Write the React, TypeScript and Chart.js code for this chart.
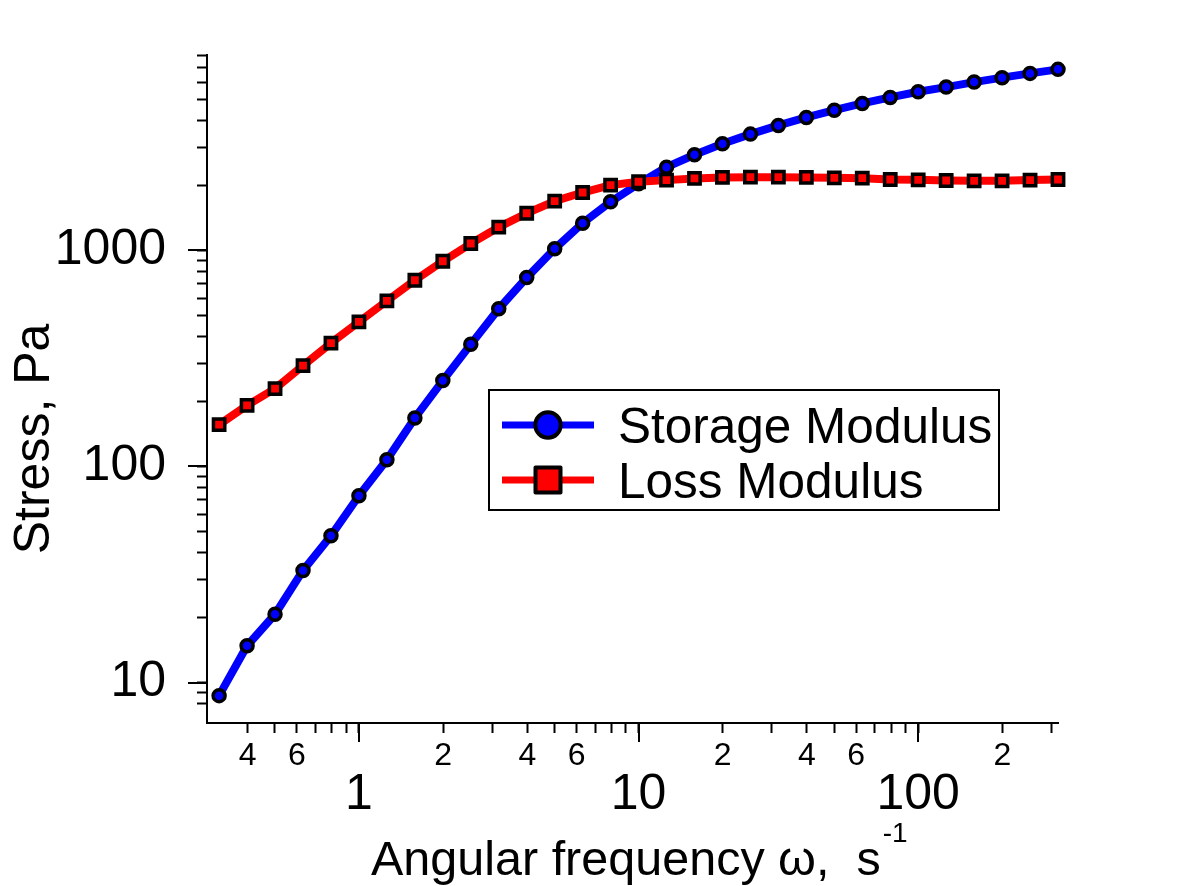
import React, { useEffect, useRef } from 'react';
import { Chart, registerables } from 'chart.js';

Chart.register(...registerables);

// ---- data ----
const angularFrequency = [0.3162, 0.3981, 0.5012, 0.631, 0.7943, 1, 1.259, 1.585, 1.995, 2.512, 3.162, 3.981, 5.012, 6.31, 7.943, 10, 12.59, 15.85, 19.95, 25.12, 31.62, 39.81, 50.12, 63.1, 79.43, 100, 125.9, 158.5, 199.5, 251.2, 316.2];
const storageModulus = [8.7, 14.8, 20.7, 33.0, 47.8, 73.1, 107.4, 167.5, 249.5, 367, 536, 747, 1015, 1334, 1675, 2030, 2421, 2765, 3109, 3444, 3778, 4115, 4446, 4776, 5092, 5409, 5683, 5995, 6285, 6577, 6865];
const lossModulus = [156, 191.5, 229, 292.6, 372, 466, 583, 726, 889, 1074, 1278, 1483, 1686, 1849, 2000, 2073, 2110, 2148, 2171, 2178, 2178, 2171, 2163, 2155, 2124, 2117, 2102, 2095, 2095, 2110, 2124];

const seriesNames = ['Storage Modulus', 'Loss Modulus'];

const xTickValues = [0.4, 0.5, 0.6, 0.7, 0.8, 0.9, 1, 2, 3, 4, 5, 6, 7, 8, 9, 10, 20, 30, 40, 50, 60, 70, 80, 90, 100, 200, 300];
const xTickLabels = ['4', '', '6', '', '', '', '1', '2', '', '4', '', '6', '', '', '', '10', '2', '', '4', '', '6', '', '', '', '100', '2', ''];
const xMajorTicks = [1, 10, 100];

const yTickValues = [8, 9, 10, 20, 30, 40, 50, 60, 70, 80, 90, 100, 200, 300, 400, 500, 600, 700, 800, 900, 1000, 2000, 3000, 4000, 5000, 6000, 7000, 8000];
const yMajorTicks = [10, 100, 1000];

const xTitle = 'Angular frequency \u03c9,  s';
const xTitleSup = '-1';
const yTitle = 'Stress, Pa';

const FONT = "'Liberation Sans', Arial, Helvetica, sans-serif";

const decorPlugin = {
  id: 'decor',
  afterDraw(chart: any) {
    const { ctx, chartArea, scales } = chart;
    const xs = scales.x;
    const ys = scales.y;
    ctx.save();
    ctx.strokeStyle = '#000';
    ctx.lineWidth = 2;
    ctx.lineCap = 'butt';
    // longer major ticks
    xMajorTicks.forEach((v) => {
      const px = Math.round(xs.getPixelForValue(v) - 1) + 1;
      ctx.beginPath();
      ctx.moveTo(px, chartArea.bottom);
      ctx.lineTo(px, chartArea.bottom + 19);
      ctx.stroke();
    });
    yMajorTicks.forEach((v) => {
      const py = Math.round(ys.getPixelForValue(v) - 1) + 1;
      ctx.beginPath();
      ctx.moveTo(chartArea.left, py);
      ctx.lineTo(chartArea.left - 19, py);
      ctx.stroke();
    });

    // axis titles
    ctx.fillStyle = '#000';
    ctx.textBaseline = 'alphabetic';
    ctx.textAlign = 'left';
    ctx.font = `48.5px ${FONT}`;
    const tx = 371;
    ctx.fillText(xTitle, tx, 875);
    const w = ctx.measureText(xTitle).width;
    ctx.font = `28px ${FONT}`;
    ctx.fillText(xTitleSup, tx + w + 2, 842);

    ctx.save();
    ctx.translate(49, 439);
    ctx.rotate(-Math.PI / 2);
    ctx.textAlign = 'center';
    ctx.font = `50px ${FONT}`;
    ctx.fillText(yTitle, 0, 0);
    ctx.restore();

    // legend
    const bx = 489, by = 390, bw = 510, bh = 120;
    ctx.fillStyle = '#fff';
    ctx.fillRect(bx, by, bw, bh);
    ctx.lineWidth = 2;
    ctx.strokeStyle = '#000';
    ctx.strokeRect(bx, by, bw, bh);
    const rows = [425, 480];
    chart.data.datasets.forEach((ds: any, i: number) => {
      const cy = rows[i];
      ctx.strokeStyle = ds.borderColor;
      ctx.lineWidth = 7;
      ctx.beginPath();
      ctx.moveTo(502, cy);
      ctx.lineTo(594, cy);
      ctx.stroke();
      ctx.fillStyle = ds.pointBackgroundColor;
      ctx.strokeStyle = '#000';
      ctx.lineWidth = 4;
      ctx.lineJoin = 'round';
      ctx.beginPath();
      if (ds.pointStyle === 'rect') {
        ctx.rect(548 - 12.5, cy - 12.5, 25, 25);
      } else {
        ctx.arc(548, cy, 12.7, 0, Math.PI * 2);
      }
      ctx.fill();
      ctx.stroke();
      ctx.fillStyle = '#000';
      ctx.font = `49.5px ${FONT}`;
      ctx.textAlign = 'left';
      ctx.textBaseline = 'alphabetic';
      ctx.fillText(ds.label, 618, cy + 18);
    });
    ctx.restore();
  },
};

export default function App() {
  const canvasRef = useRef<HTMLCanvasElement | null>(null);

  useEffect(() => {
    if (!canvasRef.current) return;
    const chart = new Chart(canvasRef.current, {
      type: 'line',
      data: {
        datasets: [
          {
            label: seriesNames[0],
            data: angularFrequency.map((x, i) => ({ x, y: storageModulus[i] })),
            borderColor: '#0000ff',
            backgroundColor: '#0000ff',
            borderWidth: 8,
            borderJoinStyle: 'round',
            pointStyle: 'circle',
            pointRadius: 6,
            pointBorderWidth: 3.5,
            pointBorderColor: '#000',
            pointBackgroundColor: '#0000ff',
            tension: 0,
            clip: false,
            order: 2,
          } as any,
          {
            label: seriesNames[1],
            data: angularFrequency.map((x, i) => ({ x, y: lossModulus[i] })),
            borderColor: '#ff0000',
            backgroundColor: '#ff0000',
            borderWidth: 8,
            borderJoinStyle: 'round',
            pointStyle: 'rect',
            pointRadius: 8,
            pointBorderWidth: 3.5,
            pointBorderColor: '#000',
            pointBackgroundColor: '#ff0000',
            tension: 0,
            clip: false,
            order: 1,
          } as any,
        ],
      },
      options: {
        animation: false,
        responsive: false,
        devicePixelRatio: 1,
        events: [],
        layout: { padding: { top: 55, right: 124, left: 0, bottom: 0 } },
        plugins: { legend: { display: false }, tooltip: { enabled: false }, title: { display: false } },
        scales: {
          x: {
            type: 'logarithmic',
            position: 'bottom',
            min: 0.2862,
            max: 316.2,
            afterBuildTicks: (s: any) => {
              s.ticks = xTickValues.map((v) => ({ value: v, major: xMajorTicks.includes(v) }));
            },
            afterFit: (s: any) => {
              s.height = 163;
              s.paddingLeft = 0;
              s.paddingRight = 0;
            },
            grid: { display: true, drawOnChartArea: false, drawTicks: true, tickLength: 10, tickWidth: 2, tickColor: '#000' },
            border: { display: true, color: '#000', width: 2 },
            ticks: {
              autoSkip: false,
              maxRotation: 0,
              minRotation: 0,
              padding: 4,
              color: '#000',
              callback: (_v: any, i: number) =>
                xMajorTicks.includes(xTickValues[i]) ? ['', xTickLabels[i]] : xTickLabels[i],
              font: (c: any) => {
                const v = c.tick ? c.tick.value : 0;
                return xMajorTicks.includes(v)
                  ? { family: FONT, size: 50, lineHeight: 0.77 }
                  : { family: FONT, size: 32, lineHeight: 1.2 };
              },
            },
          } as any,
          y: {
            type: 'logarithmic',
            position: 'left',
            min: 6.5,
            max: 8000,
            afterBuildTicks: (s: any) => {
              s.ticks = yTickValues.map((v) => ({ value: v, major: yMajorTicks.includes(v) }));
            },
            afterFit: (s: any) => {
              s.width = 207;
              s.paddingTop = 0;
              s.paddingBottom = 0;
            },
            grid: { display: true, drawOnChartArea: false, drawTicks: true, tickLength: 10, tickWidth: 2, tickColor: '#000' },
            border: { display: true, color: '#000', width: 2 },
            ticks: {
              autoSkip: false,
              padding: 31,
              color: '#000',
              callback: (_v: any, i: number) =>
                yMajorTicks.includes(yTickValues[i]) ? String(yTickValues[i]) : '',
              font: { family: FONT, size: 50, lineHeight: 1.2 },
            },
          } as any,
        },
      },
      plugins: [decorPlugin],
    } as any);
    return () => chart.destroy();
  }, []);

  return (
    <div style={{ position: 'absolute', left: 0, top: 0, width: 1182, height: 886, background: '#fff' }}>
      <canvas ref={canvasRef} width={1182} height={886} style={{ width: 1182, height: 886, display: 'block' }} />
    </div>
  );
}
